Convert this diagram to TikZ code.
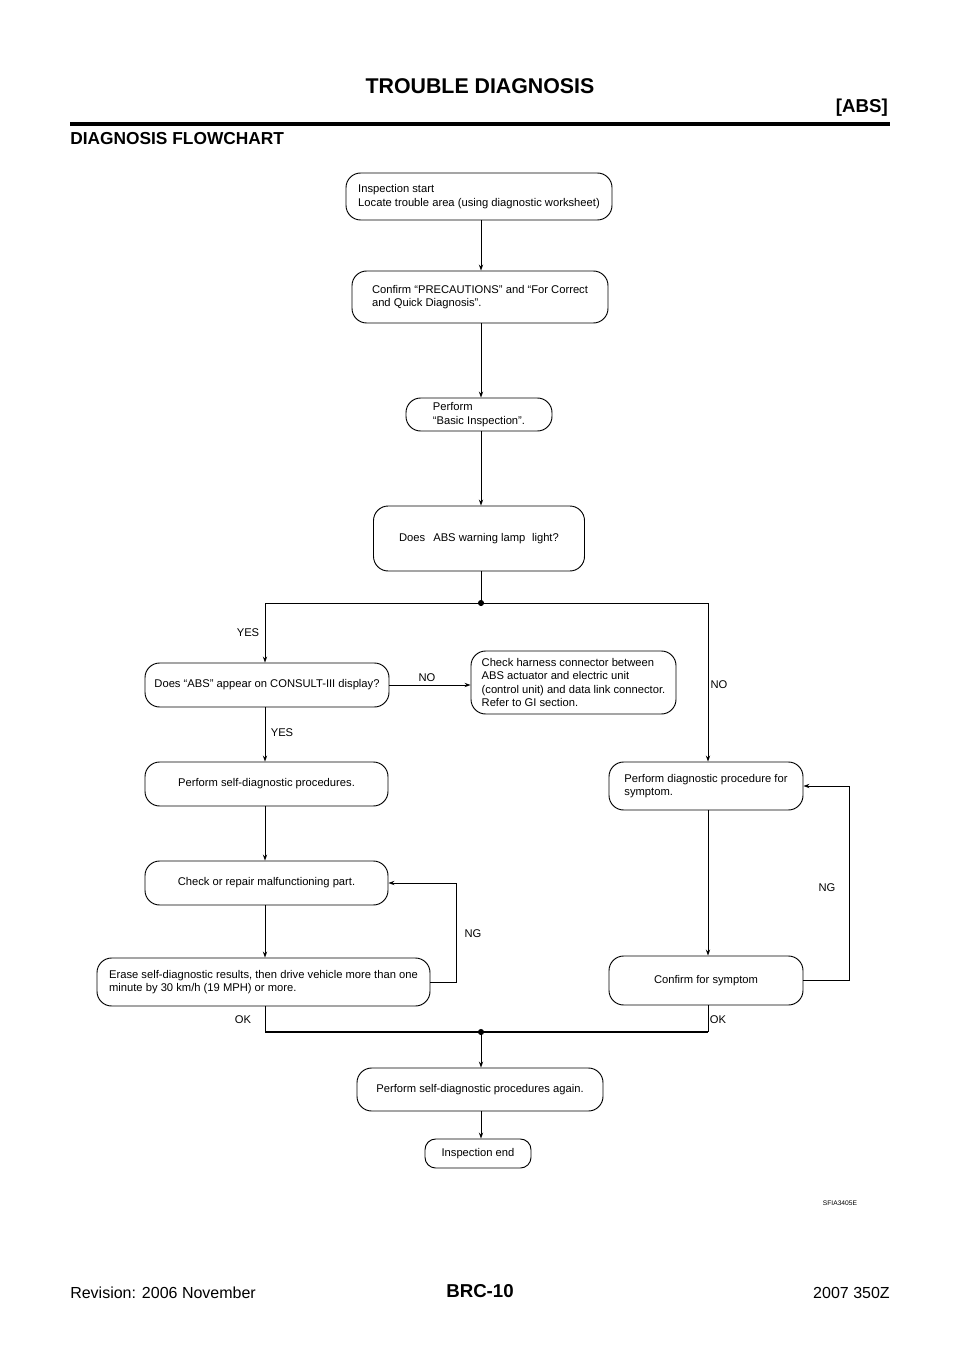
\documentclass[tikz,border=0pt]{standalone}
\usepackage{fontspec}
\setmainfont{Liberation Sans}
\usetikzlibrary{arrows.meta}
\begin{document}
\begin{tikzpicture}[x=0.75pt,y=-0.75pt,
  box/.style={draw, line width=0.7pt, rounded corners=11pt, align=left,
    font=\fontsize{8.4}{10}\selectfont, inner sep=0pt},
  conn/.style={line width=0.6pt},
  arr/.style={conn, -{Stealth[length=4.5pt,width=3.2pt]}},
  lbl/.style={font=\fontsize{8.4}{10}\selectfont, inner sep=0pt},
  jdot/.style={circle, fill, inner sep=0pt, minimum size=4.6pt}]
\useasboundingbox (0,0) rectangle (960,1358);

% header
\node[font=\bfseries\fontsize{16}{19}\selectfont] (title) at (480,86) {TROUBLE DIAGNOSIS};
\node[font=\bfseries\fontsize{14}{17}\selectfont, anchor=east, inner sep=0pt] (abs) at (888,108) {[ABS]};
\draw[line width=2.3pt] (70,124) coordinate (rl) -- (890,124) coordinate (rr);
\node[font=\bfseries\fontsize{13}{16}\selectfont, anchor=west, inner sep=0pt] (sec) at (70,139) {DIAGNOSIS FLOWCHART};

% boxes
\node[box, minimum width=266*0.75pt, minimum height=47*0.75pt] (b1) at (479,196.5)
  {Inspection start\\Locate trouble area (using diagnostic worksheet)};
\node[box, minimum width=256*0.75pt, minimum height=52*0.75pt] (b2) at (480,297)
  {Confirm “PRECAUTIONS” and “For Correct\\and Quick Diagnosis”.};
\node[box, minimum width=146*0.75pt, minimum height=33*0.75pt] (b3) at (479,414.5)
  {Perform\\“Basic Inspection”.};
\node[box, minimum width=211*0.75pt, minimum height=65*0.75pt] (b4) at (479,538.5)
  {Does\hspace{6pt}ABS warning lamp\hspace{5pt}light?};
\node[box, minimum width=244*0.75pt, minimum height=44*0.75pt] (b5) at (267,685)
  {Does “ABS” appear on CONSULT-III display?};
\node[box, minimum width=205*0.75pt, minimum height=63*0.75pt] (b6) at (573.5,682.5)
  {Check harness connector between\\ABS actuator and electric unit\\(control unit) and data link connector.\\Refer to GI section.};
\node[box, minimum width=243*0.75pt, minimum height=44*0.75pt] (b7) at (266.5,784)
  {Perform self-diagnostic procedures.};
\node[box, minimum width=194*0.75pt, minimum height=48*0.75pt] (b8) at (706,786)
  {Perform diagnostic procedure for\\symptom.};
\node[box, minimum width=243*0.75pt, minimum height=44*0.75pt] (b9) at (266.5,883)
  {Check or repair malfunctioning part.};
\node[box, minimum width=333*0.75pt, minimum height=48*0.75pt] (b10) at (263.5,982)
  {Erase self-diagnostic results, then drive vehicle more than one\\minute by 30 km/h (19 MPH) or more.};
\node[box, minimum width=194*0.75pt, minimum height=49*0.75pt] (b11) at (706,980.5)
  {Confirm for symptom};
\node[box, minimum width=246*0.75pt, minimum height=43*0.75pt] (b12) at (480,1089.5)
  {Perform self-diagnostic procedures again.};
\node[box, rounded corners=8pt, minimum width=106*0.75pt, minimum height=29*0.75pt] (b13) at (478,1153.5)
  {Inspection end};

% junctions
\node[jdot] (j1) at (481,603) {};
\coordinate (jl) at (265,603);
\coordinate (jr) at (708,603);
\node[jdot] (j2) at (481,1032) {};
\coordinate (ol) at (265,1032);
\coordinate (or) at (708,1032);
\coordinate (ngl) at (456,0);
\coordinate (ngr) at (849,0);

% connectors
\draw[arr] (b1.south -| j1) -- (b2.north -| j1);
\draw[arr] (b2.south -| j1) -- (b3.north -| j1);
\draw[arr] (b3.south -| j1) -- (b4.north -| j1);
\draw[conn] (b4.south -| j1) -- (j1);
\draw[conn] (jl) -- (jr);
\draw[arr] (jl) -- (jl |- b5.north);
\draw[arr] (jr) -- (jr |- b8.north);
\draw[arr] (b5.east) -- (b6.west |- b5.east);
\draw[arr] (b5.south -| jl) -- (b7.north -| jl);
\draw[arr] (b7.south -| jl) -- (b9.north -| jl);
\draw[arr] (b9.south -| jl) -- (b10.north -| jl);
\draw[arr] (b8.south -| jr) -- (b11.north -| jr);
\draw[arr] (b10.east) -| (ngl |- b9.east) -- (b9.east);
\draw[arr] (b11.east) -| (ngr |- b8.east) -- (b8.east);
\draw[conn] (b10.south -| ol) -- (ol);
\draw[conn] (b11.south -| or) -- (or);
\draw[line width=1.2pt] (ol) -- (or);
\draw[arr] (j2) -- (b12.north -| j2);
\draw[arr] (b12.south -| j2) -- (b13.north -| j2);

% labels
\node[lbl] (yes1) at (248,633) {YES};
\node[lbl] (yes2) at (282,733) {YES};
\node[lbl] (no1) at (427,678) {NO};
\node[lbl] (no2) at (719,685) {NO};
\node[lbl] (ng1) at (473,934) {NG};
\node[lbl] (ng2) at (827,888) {NG};
\node[lbl] (ok1) at (243,1020) {OK};
\node[lbl] (ok2) at (718,1020) {OK};

% footer
\node[font=\fontsize{5}{6}\selectfont, inner sep=0pt] (code) at (840,1203) {SFIA3405E};
\node[font=\fontsize{12}{14}\selectfont, anchor=west, inner sep=0pt] (rev) at (70,1293) {Revision: 2006 November};
\node[font=\bfseries\fontsize{14}{17}\selectfont, inner sep=0pt] (page) at (480,1291) {BRC-10};
\node[font=\fontsize{12}{14}\selectfont, anchor=east, inner sep=0pt] (model) at (890,1293) {2007 350Z};
\end{tikzpicture}
\end{document}
